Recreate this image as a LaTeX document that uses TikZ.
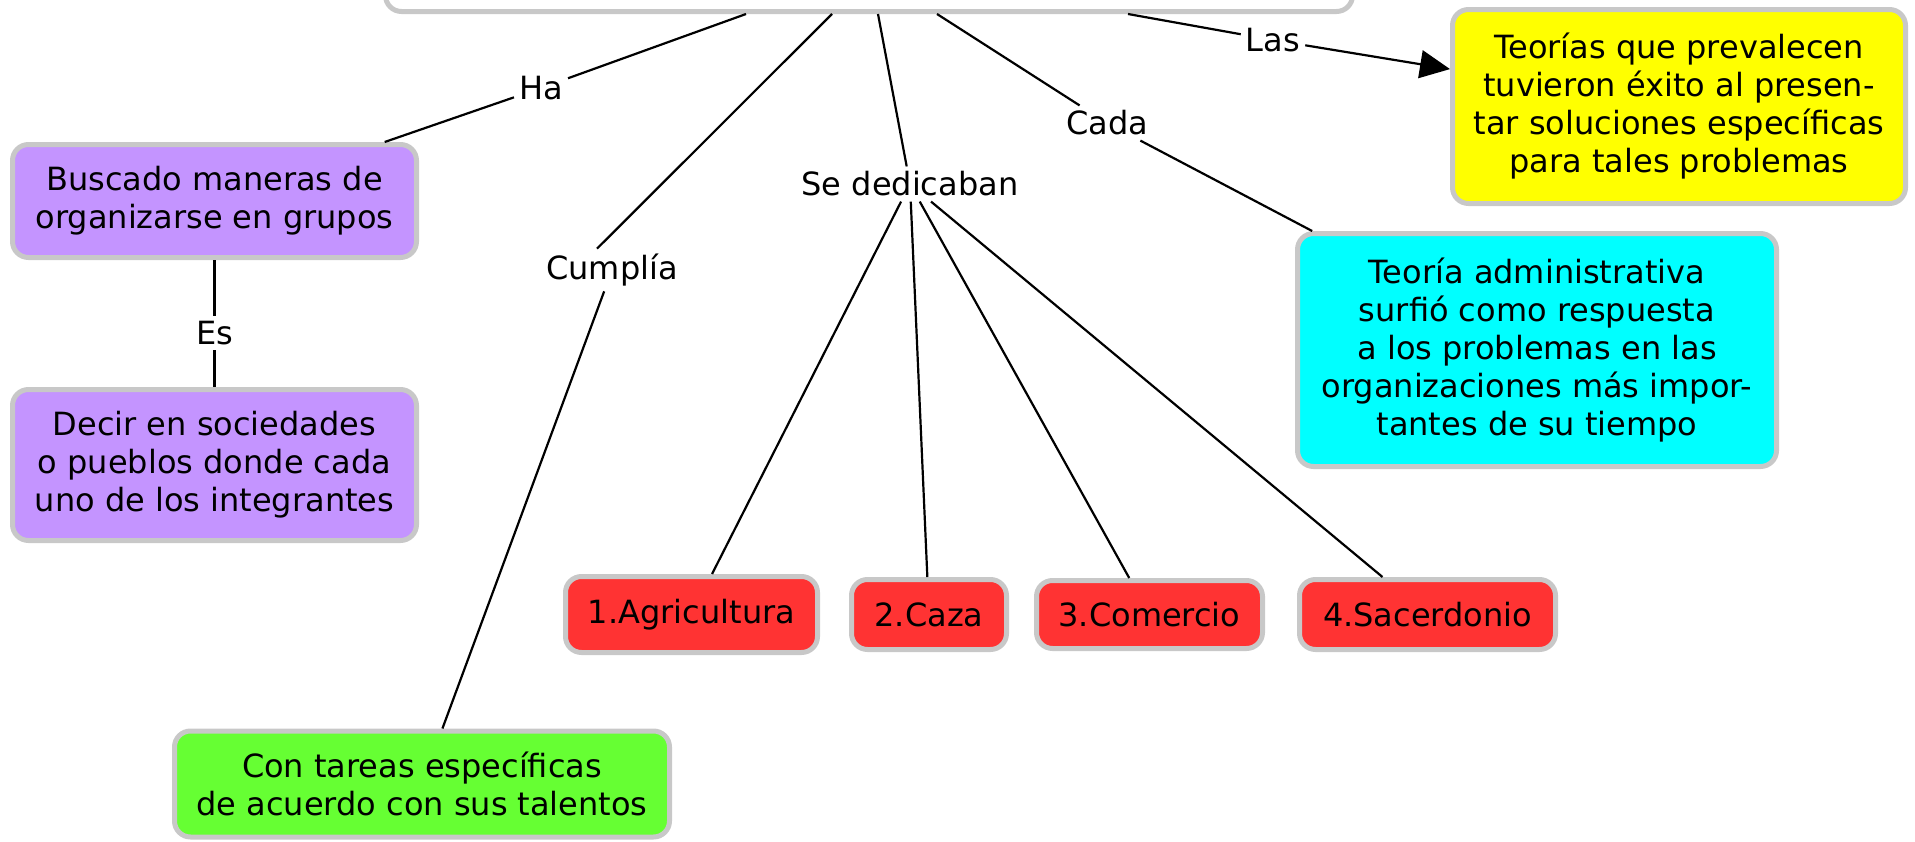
\documentclass[tikz,border=0pt]{standalone}
\usepackage{fontspec}
\setmainfont{DejaVu Sans}
\usepackage{tikz}
\usetikzlibrary{arrows.meta, positioning}

\definecolor{lila}{RGB}{196,148,255}
\definecolor{rojo}{RGB}{255,51,51}
\definecolor{verde}{RGB}{102,255,51}
\definecolor{amarillo}{RGB}{255,255,0}
\definecolor{celeste}{RGB}{0,255,255}
\definecolor{borde}{RGB}{200,200,200}

\begin{document}
\begin{tikzpicture}[
    x=1pt, y=-1pt,
    node distance=28pt,
    font=\fontsize{32}{38}\selectfont,
    concept/.style={rectangle, rounded corners=16pt, draw=borde, line width=5pt, align=center, inner sep=0pt},
    linkword/.style={inner sep=5pt},
    every edge/.style={draw, line width=2.2pt}
]
\useasboundingbox (0,0) rectangle (1915,841);

\node[concept, fill=white, minimum width=967pt, minimum height=100pt] (top) at (869,-38.5) {};

\node[concept, fill=lila, minimum width=404pt, minimum height=113pt] (buscado) at (214.5,201) {Buscado maneras de\\organizarse en grupos};
\node[concept, fill=lila, minimum width=404pt, minimum height=151pt] (decir) at (214.5,465) {Decir en sociedades\\o pueblos donde cada\\uno de los integrantes};
\node[concept, fill=verde, minimum width=495pt, minimum height=106pt] (tareas) at (422,784) {Con tareas específicas\\de acuerdo con sus talentos};

\node[concept, fill=rojo, minimum width=252pt, minimum height=76pt] (agri) at (691.5,614.5) {1.Agricultura};
\node[concept, fill=rojo, minimum width=155pt, minimum height=70pt, right=29pt of agri] (caza) {2.Caza};
\node[concept, fill=rojo, minimum width=226pt, minimum height=68pt, right=25pt of caza] (comercio) {3.Comercio};
\node[concept, fill=rojo, minimum width=256pt, minimum height=70pt, right=32pt of comercio] (sacer) {4.Sacerdonio};

\node[concept, fill=amarillo, minimum width=453pt, minimum height=194pt] (teorias) at (1679,106.5) {Teorías que prevalecen\\tuvieron éxito al presen-\\tar soluciones específicas\\para tales problemas};
\node[concept, fill=celeste, minimum width=479pt, minimum height=233pt] (admin) at (1537,350) {Teoría administrativa\\surfió como respuesta\\a los problemas en las\\organizaciones más impor-\\tantes de su tiempo};

% palabras de enlace
\node[linkword] (ha) at (541,88) {Ha};
\node[linkword] (es) at (214.5,333) {Es};
\node[linkword] (cumplia) at (612,270) {Cumplía};
\node[linkword] (sededic) at (910,184) {Se dedicaban};
\node[linkword] (cada) at (1107,123) {Cada};
\node[linkword] (las) at (1273,40) {Las};

\draw ([xshift=-123pt]top.south) edge (ha);
\draw (ha) edge (buscado);

\draw (buscado) edge (es);
\draw (es) edge (decir);

\draw ([xshift=-37pt]top.south) edge ([xshift=-15pt]cumplia.north);
\draw (cumplia) edge (tareas);

\draw ([xshift=9pt]top.south) edge (sededic);
\draw (sededic) edge (agri);
\draw (sededic) edge (caza);
\draw (sededic) edge (comercio);
\draw (sededic) edge (sacer);

\draw ([xshift=68pt]top.south) edge (cada);
\draw (cada) edge (admin);

\draw ([xshift=259pt]top.south) edge (las);
\draw (las) edge[-{Triangle[length=30pt, width=28pt]}] (teorias);

\end{tikzpicture}
\end{document}
